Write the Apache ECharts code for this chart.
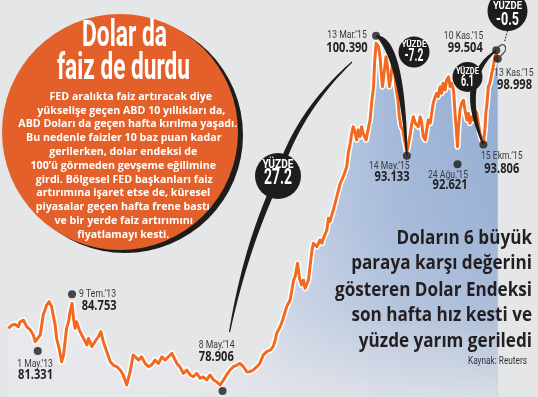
<!DOCTYPE html>
<html>
<head>
<meta charset="utf-8">
<script src="https://cdn.jsdelivr.net/npm/echarts@6/dist/echarts.min.js"></script>
<style>
  html, body { margin: 0; padding: 0; background: #e5e6e8; }
  #main { width: 538px; height: 397px; }
</style>
</head>
<body>
<div id="main"></div>
<script>
// dolar endeksi, okunan degerler
const dates = [
  '2013-03-03','2013-03-10','2013-03-16','2013-03-23','2013-03-26','2013-04-02','2013-04-09','2013-04-16','2013-04-22','2013-04-26',
  '2013-04-30','2013-05-06','2013-05-09','2013-05-12','2013-05-19','2013-05-24','2013-05-29','2013-06-01','2013-06-05','2013-06-08',
  '2013-06-13','2013-06-18','2013-06-22','2013-06-25','2013-06-28','2013-07-02','2013-07-05','2013-07-09','2013-07-12','2013-07-15',
  '2013-07-18','2013-07-25','2013-08-01','2013-08-08','2013-08-11','2013-08-18','2013-08-24','2013-08-31','2013-09-05','2013-09-10',
  '2013-09-17','2013-09-24','2013-09-30','2013-10-07','2013-10-14','2013-10-20','2013-10-27','2013-11-03','2013-11-09','2013-11-13',
  '2013-11-20','2013-11-26','2013-12-03','2013-12-10','2013-12-16','2013-12-23','2013-12-30','2014-01-06','2014-01-12','2014-01-19',
  '2014-01-26','2014-02-05','2014-02-11','2014-02-18','2014-02-25','2014-03-04','2014-03-10','2014-03-17','2014-03-24','2014-03-30',
  '2014-04-06','2014-04-13','2014-04-20','2014-04-26','2014-05-03','2014-05-10','2014-05-16','2014-05-23','2014-05-30','2014-06-06',
  '2014-06-12','2014-06-19','2014-06-26','2014-07-02','2014-07-09','2014-07-16','2014-07-22','2014-07-29','2014-08-05','2014-08-12',
  '2014-08-18','2014-08-22','2014-08-25','2014-09-01','2014-09-06','2014-09-11','2014-09-14','2014-09-21','2014-09-24','2014-09-28',
  '2014-10-01','2014-10-06','2014-10-10','2014-10-14','2014-10-18','2014-10-21','2014-10-24','2014-10-28','2014-10-31','2014-11-04',
  '2014-11-07','2014-11-10','2014-11-14','2014-11-17','2014-11-20','2014-11-24','2014-11-27','2014-11-30','2014-12-04','2014-12-07',
  '2014-12-10','2014-12-17','2014-12-24','2014-12-31','2015-01-06','2015-01-13','2015-01-16','2015-01-20','2015-01-23','2015-01-26',
  '2015-01-30','2015-02-02','2015-02-05','2015-02-09','2015-02-12','2015-02-15','2015-02-21','2015-02-26','2015-03-01','2015-03-04',
  '2015-03-08','2015-03-10','2015-03-13','2015-03-18','2015-03-21','2015-03-23','2015-03-26','2015-03-30','2015-04-02','2015-04-05',
  '2015-04-09','2015-04-12','2015-04-16','2015-04-19','2015-04-22','2015-04-26','2015-04-29','2015-05-02','2015-05-06','2015-05-09',
  '2015-05-12','2015-05-14','2015-05-20','2015-05-24','2015-05-27','2015-05-31','2015-06-06','2015-06-10','2015-06-13','2015-06-16',
  '2015-06-20','2015-06-23','2015-06-26','2015-06-30','2015-07-03','2015-07-06','2015-07-10','2015-07-13','2015-07-16','2015-07-20',
  '2015-07-23','2015-07-26','2015-07-30','2015-08-02','2015-08-06','2015-08-09','2015-08-12','2015-08-16','2015-08-19','2015-08-24',
  '2015-08-26','2015-08-29','2015-09-01','2015-09-05','2015-09-08','2015-09-12','2015-09-15','2015-09-18','2015-09-22','2015-09-25',
  '2015-09-28','2015-10-02','2015-10-05','2015-10-08','2015-10-12','2015-10-15','2015-10-18','2015-10-20','2015-10-23','2015-10-25',
  '2015-10-28','2015-11-01','2015-11-04','2015-11-07','2015-11-10','2015-11-11','2015-11-12','2015-11-13'
];
const values = [
  82.70, 82.90, 82.94, 82.80, 83.06, 83.20, 82.80, 82.60, 82.30, 81.89,
  81.79, 82.30, 82.90, 83.51, 84.11, 84.31, 84.01, 83.51, 82.90, 82.10,
  81.49, 80.68, 81.09, 81.89, 82.70, 83.10, 83.70, 84.21, 83.31, 82.70,
  83.10, 82.50, 82.10, 81.69, 82.10, 81.59, 81.89, 82.19, 82.50, 81.89,
  81.29, 80.68, 80.48, 80.38, 80.18, 79.88, 79.27, 80.08, 81.09, 81.19,
  80.78, 80.98, 80.58, 80.38, 80.48, 80.78, 80.58, 80.98, 80.78, 80.98,
  81.19, 80.58, 80.38, 79.98, 80.18, 79.88, 79.77, 79.98, 79.68, 79.77,
  79.58, 79.88, 79.58, 79.47, 79.27, 79.58, 79.88, 80.18, 80.38, 80.48,
  80.58, 80.38, 80.06, 80.08, 80.18, 80.38, 80.58, 81.09, 81.29, 81.39,
  81.59, 81.99, 82.40, 82.80, 83.20, 83.70, 84.01, 84.41, 84.91, 85.62,
  85.82, 86.63, 85.72, 85.32, 85.62, 85.12, 85.32, 85.62, 86.43, 87.43,
  87.84, 87.94, 87.64, 87.84, 88.04, 87.84, 88.14, 88.24, 88.64, 89.35,
  89.15, 89.85, 90.66, 91.47, 91.87, 92.47, 93.28, 93.89, 94.49, 94.89,
  94.49, 94.09, 94.69, 94.29, 94.89, 94.49, 94.09, 94.89, 95.29, 96.30,
  97.31, 98.72, 99.93, 99.73, 99.12, 98.32, 97.31, 98.32, 99.12, 98.52,
  97.31, 97.91, 98.92, 98.32, 97.31, 96.50, 95.49, 94.89, 94.69, 94.09,
  93.68, 93.33, 94.29, 95.10, 95.49, 95.10, 94.89, 95.49, 95.10, 94.29,
  94.09, 94.69, 95.29, 95.10, 95.70, 96.30, 96.70, 96.91, 96.70, 97.31,
  96.91, 97.51, 97.11, 97.71, 97.91, 97.31, 97.51, 97.11, 95.70, 93.68,
  94.89, 95.90, 96.30, 96.50, 95.90, 95.29, 95.70, 95.10, 95.49, 95.29,
  95.90, 95.70, 95.10, 94.49, 94.09, 93.89, 94.69, 95.70, 96.50, 97.31,
  97.51, 98.12, 98.52, 99.12, 99.33, 99.12, 99.23, 98.82
];

// isaretli noktalar
const markDates = ['2013-05-01', '2013-07-09', '2014-05-08', '2015-03-13', '2015-05-14', '2015-08-24', '2015-10-15', '2015-11-10', '2015-11-13'];
const markValues = [81.331, 84.753, 78.906, 100.390, 93.133, 92.621, 93.806, 99.504, 98.998];
const markLabels = ['1 May.’13', '9 Tem.’13', '8 May.’14', '13 Mar.’15', '14 May.’15', '24 Ağu.’15', '15 Ekm.’15', '10 Kas.’15', '13 Kas.’15'];

const changeWord = 'YÜZDE';
const changeLabels = ['27.2', '-7.2', '6.1', '-0.5'];

const titleLines = ['Dolar da', 'faiz de durdu'];
const bodyLines = [
  'FED aralıkta faiz artıracak diye',
  'yükselişe geçen ABD 10 yıllıkları da,',
  'ABD Doları da geçen hafta kırılma yaşadı.',
  'Bu nedenle faizler 10 baz puan kadar',
  'gerilerken, dolar endeksi de',
  '100’ü görmeden gevşeme eğilimine',
  'girdi. Bölgesel FED başkanları faiz',
  'artırımına işaret etse de, küresel',
  'piyasalar geçen hafta frene bastı',
  've bir yerde faiz artırımını',
  'fiyatlamayı kesti.'
];
const sideLines = ['Doların 6 büyük', 'paraya karşı değerini', 'gösteren Dolar Endeksi', 'son hafta hız kesti ve', 'yüzde yarım geriledi'];
const sourceText = 'Kaynak: Reuters';

const ORANGE = '#f26a22';
const INK = '#1d1d1b';

const ts = s => { const p = s.split('-'); return new Date(+p[0], p[1] - 1, +p[2]).getTime(); };

const chart = echarts.init(document.getElementById('main'));
const pts = dates.map((d, i) => [ts(d), values[i]]);
const marks = markDates.map((d, i) => [ts(d), markValues[i]]);

chart.setOption({
  animation: false,
  backgroundColor: '#e5e6e8',
  grid: { left: 0, right: 0, top: 0, bottom: 0 },
  xAxis: { type: 'time', min: ts('2013-02-14'), max: ts('2016-02-02'), show: false },
  yAxis: { type: 'value', min: 78.548, max: 102.548, show: false },
  series: [
    {
      type: 'line', data: pts, symbol: 'none', silent: true, z: 1,
      lineStyle: { width: 0 },
      areaStyle: {
        origin: 'start', opacity: 1,
        color: new echarts.graphic.LinearGradient(0, 0, 1, 0, [
          { offset: 0, color: 'rgba(238,241,246,0.6)' },
          { offset: 0.42, color: 'rgba(226,231,240,0.75)' },
          { offset: 0.58, color: 'rgb(192,205,228)' },
          { offset: 0.8, color: 'rgb(160,182,216)' },
          { offset: 1, color: 'rgb(148,172,211)' }
        ])
      }
    },
    {
      type: 'line', data: pts, symbol: 'none', silent: true, z: 2,
      lineStyle: { width: 0 },
      areaStyle: {
        origin: 'start', opacity: 1,
        color: new echarts.graphic.LinearGradient(0, 0, 0, 1, [
          { offset: 0, color: 'rgba(229,230,233,0)' },
          { offset: 0.5, color: 'rgba(229,230,233,0.1)' },
          { offset: 0.75, color: 'rgba(229,230,233,0.3)' },
          { offset: 1, color: 'rgba(229,230,233,0.85)' }
        ])
      }
    },
    {
      type: 'line', data: pts, symbol: 'none', silent: true, z: 3,
      lineStyle: { width: 6, color: '#ffffff', join: 'round' }
    },
    {
      type: 'line', data: pts, symbol: 'none', silent: true, z: 4,
      lineStyle: { width: 3, color: ORANGE, join: 'round' }
    },
    {
      type: 'scatter', data: marks, symbolSize: 8, silent: true, z: 30,
      itemStyle: { color: INK }
    }
  ]
});

// yazilari genislige sigdirmak icin olcum
const ctx = document.createElement('canvas').getContext('2d');
function fit(str, size, weight, family, width) {
  ctx.font = weight + ' ' + size + 'px ' + family;
  return width / ctx.measureText(str).width;
}
function txt(str, x, y, size, weight, family, fill, sx, align, z) {
  return {
    type: 'text', x: x, y: y, scaleX: sx, z: z || 25, silent: true,
    style: { text: str, fontSize: size, fontWeight: weight, fontFamily: family, fill: fill, align: align || 'center', verticalAlign: 'middle' }
  };
}
function taper(p0, c, p1, w0, wm, w1, tp) {
  const left = [], right = [];
  for (let i = 0; i <= 30; i++) {
    const t = i / 30, u = 1 - t;
    const x = u * u * p0[0] + 2 * u * t * c[0] + t * t * p1[0];
    const y = u * u * p0[1] + 2 * u * t * c[1] + t * t * p1[1];
    const dx = 2 * u * (c[0] - p0[0]) + 2 * t * (p1[0] - c[0]);
    const dy = 2 * u * (c[1] - p0[1]) + 2 * t * (p1[1] - c[1]);
    const len = Math.hypot(dx, dy) || 1;
    let w;
    if (t <= tp) w = w0 + (wm - w0) * Math.sin(Math.PI / 2 * (tp ? t / tp : 1));
    else w = w1 + (wm - w1) * Math.sin(Math.PI / 2 * (1 - t) / (1 - tp));
    const nx = -dy / len * w / 2, ny = dx / len * w / 2;
    left.push([x + nx, y + ny]);
    right.push([x - nx, y - ny]);
  }
  return { type: 'polygon', z: 20, silent: true, shape: { points: left.concat(right.reverse()) }, style: { fill: INK } };
}

const px = marks.map(m => chart.convertToPixel({ seriesIndex: 4 }, m));
const g = [];

// turuncu daire
g.push({ type: 'circle', z: 5, silent: true, shape: { cx: 125, cy: 135, r: 118 }, style: { fill: INK } });
g.push({ type: 'circle', z: 6, silent: true, shape: { cx: 120, cy: 132, r: 118 }, style: { fill: '#e3602a' } });

const TF = 'Roboto';
const OS = '"Open Sans"';
g.push(txt(titleLines[0], 124.5, 37, 36, 'bold', TF, '#fff', fit(titleLines[0], 36, 'bold', TF, 85), 'center', 7));
g.push(txt(titleLines[1], 123.5, 70, 36, 'bold', TF, '#fff', fit(titleLines[1], 36, 'bold', TF, 133), 'center', 7));

const bodyX = [130.8, 131.3, 127.8, 123.8, 123.3, 123.3, 124.3, 123.3, 122.8, 123.7, 123.3];
const bodyScale = fit(bodyLines[2], 10.3, 'bold', OS, 219);
bodyLines.forEach((l, i) => g.push(txt(l, bodyX[i], 96.8 + i * 13.82, 10.3, 'bold', OS, '#fff', bodyScale, 'center', 7)));

// sag alt metin
const sideY = [238, 263.7, 290, 315.5, 341.7];
const sideScale = fit(sideLines[2], 20, 'bold', OS, 197);
sideLines.forEach((l, i) => g.push(txt(l, 532, sideY[i], 20, 'bold', OS, '#231f20', sideScale, 'right', 7)));
g.push(txt(sourceText, 527, 361.5, 10, 'normal', TF, '#333', fit(sourceText, 10, 'normal', TF, 59), 'right', 7));

// nokta etiketleri
const offs = [[-2.7, 13, -2.2, 24.6], [25.5, 0.5, 27.1, 12], [-5.9, -45.7, -6.2, -34.2], [-29, 0, -29, 12.6], [-17.6, 10.8, -14.8, 21.6],
  [-9.5, 10.8, -7.5, 20.8], [18.4, 11.8, 18.4, 24.6], [-32.7, -14.2, -31, -1.7], [16, 15, 16.8, 26.7]];
const dScale = fit(markLabels[4], 10.5, 'normal', TF, 40.7);
const vScale = fit('93.806', 13.5, 'bold', OS, 35);
px.forEach((p, i) => {
  const o = offs[i];
  g.push(txt(markLabels[i], p[0] + o[0], p[1] + o[1], 10.5, 'normal', TF, '#3b3b3b', dScale));
  g.push(txt(markValues[i].toFixed(3), p[0] + o[2], p[1] + o[3], 13.5, 'bold', OS, '#231f20', vScale));
});

// yuzde balonlari ve kuyruklari
const [p13, p14, p8, pMar, pMay, pAug, pOct, pK10, pK13] = px;
g.push(taper([352, 62], [300, 110], [280, 170], 1.2, 5.5, 5.5, 1));
g.push(taper([276, 182], [245, 250], [p8[0] + 7, p8[1] - 59], 6, 6, 1.2, 0));
g.push(taper([pMar[0], pMar[1]], [pMay[0] - 6, pMar[1] + 9], [pMay[0], pMay[1]], 1.5, 7.5, 1.5, 0.3));
g.push(taper([pOct[0], pOct[1]], [pOct[0] - 26, pK10[1] + 29], [pK10[0], pK10[1]], 1.5, 6, 1.5, 0.5));
g.push({ type: 'bezierCurve', z: 20, silent: true,
  shape: { x1: pK10[0] + 2, y1: pK10[1] - 3, cpx1: pK10[0] + 8, cpy1: pK10[1] - 10, cpx2: pK13[0] + 12, cpy2: pK13[1] - 10, x2: pK13[0] + 3, y2: pK13[1] - 3 },
  style: { stroke: '#4a4a4a', lineWidth: 1.2, fill: null } });
g.push({ type: 'line', z: 20, silent: true, shape: { x1: 507.5, y1: 31, x2: pK10[0] + 8, y2: pK10[1] - 8 },
  style: { stroke: '#333', lineWidth: 1.2, lineDash: [1.5, 1.5] } });

const bubbles = [
  { c: [278, 176], r: 23, w1: 31, f1: 12.5, d1: -11.5, w2: 28, f2: 22, d2: 2.7 },
  { c: [414, 52], r: 15.5, w1: 25, f1: 8.5, d1: -7, w2: 19, f2: 18, d2: 4.7 },
  { c: [467.5, 77], r: 15, w1: 23, f1: 8.5, d1: -5.3, w2: 13, f2: 16, d2: 5 },
  { c: [507.5, 11], r: 20, w1: 29, f1: 10, d1: -4.7, w2: 23, f2: 18, d2: 9 }
];
bubbles.forEach((b, i) => {
  g.push({ type: 'circle', z: 21, silent: true, shape: { cx: b.c[0], cy: b.c[1], r: b.r }, style: { fill: INK } });
  g.push(txt(changeWord, b.c[0], b.c[1] + b.d1, b.f1, 'bold', TF, '#fff', fit(changeWord, b.f1, 'bold', TF, b.w1), 'center', 22));
  g.push(txt(changeLabels[i], b.c[0], b.c[1] + b.d2, b.f2, 'bold', TF, '#fff', fit(changeLabels[i], b.f2, 'bold', TF, b.w2), 'center', 22));
});

chart.setOption({ graphic: { elements: g } });
</script>
</body>
</html>
